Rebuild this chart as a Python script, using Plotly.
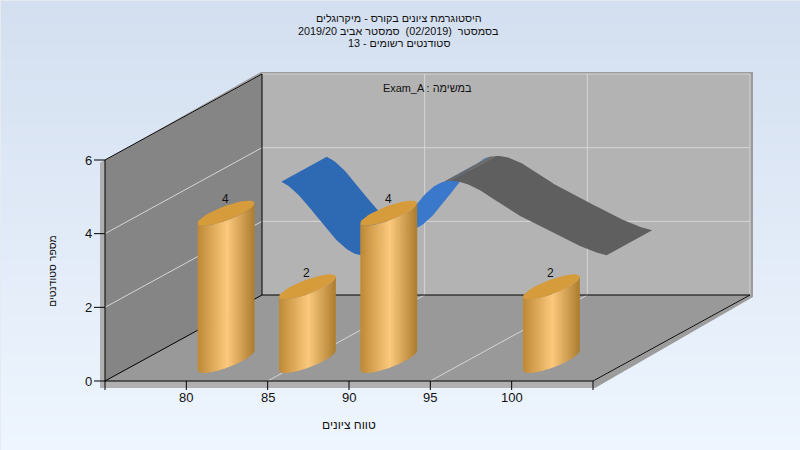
import math
import plotly.graph_objects as go

# ---- data ----
bar_grades = [80, 85, 90, 100]
bar_counts = [4, 2, 4, 2]
curve_grades = [80, 85, 90, 95, 100]
curve_counts = [4, 2, 4, 3, 2]
x_ticks = [80, 85, 90, 95, 100]
y_ticks = [0, 2, 4, 6]
title_lines = ["היסטוגרמת ציונים בקורס - מיקרוגלים",
               "בסמסטר  (02/2019)  סמסטר אביב 2019/20",
               "סטודנטים רשומים - 13"]
subtitle = "Exam_A : במשימה"
x_title = "טווח ציונים"
y_title = "מספר סטודנטים"

# ---- oblique projection of (grade, count, depth) to the page ----
XMIN, XMAX, YMAX = 75, 105, 6
OX, OY = 105, 381
PX_X, PX_Y = 488 / 30, 221 / 6
DX, DY = 157, 86
FONT = "Liberation Sans"


def P(g, v=0, d=0):
    return OX + (g - XMIN) * PX_X + d * DX, OY - v * PX_Y - d * DY


fig = go.Figure()


def poly(pts, color):
    fig.add_trace(go.Scatter(x=[p[0] for p in pts], y=[p[1] for p in pts], mode="lines",
                             fill="toself", fillcolor=color, line=dict(width=0),
                             hoverinfo="skip", showlegend=False))


def segs(pairs, color, width=1):
    xs, ys = [], []
    for a, b in pairs:
        xs += [a[0], b[0], None]
        ys += [a[1], b[1], None]
    fig.add_trace(go.Scatter(x=xs, y=ys, mode="lines", line=dict(color=color, width=width),
                             hoverinfo="skip", showlegend=False))


def off(p, dx, dy):
    return p[0] + dx, p[1] + dy


def lerp(c1, c2, u):
    return "rgb(%d,%d,%d)" % tuple(round(a + (b - a) * u) for a, b in zip(c1, c2))


# background gradient
rows = 90
fig.add_trace(go.Heatmap(x=[0, 800], y=[450 * i / rows for i in range(rows + 1)],
                         z=[[i] for i in range(rows)],
                         colorscale=[[0, "#D3DFF0"], [1, "#EEF5FE"]],
                         showscale=False, hoverinfo="skip"))
segs([((0.5, 0), (0.5, 450)), ((0, 0.5), (800, 0.5))], "#E6EBF2", 1)

# rims
poly([off(P(XMIN, YMAX), -5, 3), off(P(XMIN, YMAX, 1), -1, -2), off(P(XMAX, YMAX, 1), 3, -2),
      off(P(XMAX, 0, 1), 3, 2), off(P(XMAX), 2, 7), off(P(XMIN), -5, 7)], "#9C9C9C")
poly([off(P(XMIN, YMAX), -5, 3), P(XMIN, YMAX), P(XMIN), P(XMAX), off(P(XMAX), 2, 7), off(P(XMIN), -5, 7)], "#B0B0B0")

# walls and floor
poly([P(XMIN, 0, 1), P(XMAX, 0, 1), P(XMAX, YMAX, 1), P(XMIN, YMAX, 1)], "#B3B3B3")
poly([P(XMIN), P(XMIN, 0, 1), P(XMIN, YMAX, 1), P(XMIN, YMAX)], "#858585")
poly([P(XMIN), P(XMAX), P(XMAX, 0, 1), P(XMIN, 0, 1)], "#999999")

# grid
grid = []
for v in [2, 4, 6]:
    grid += [(P(XMIN, v), P(XMIN, v, 1)), (P(XMIN, v, 1), P(XMAX, v, 1))]
for g in [85, 95, 105]:
    grid += [(P(g), P(g, 0, 1)), (P(g, 0, 1), P(g, YMAX, 1))]
segs(grid, "#D6D6D6", 1)

# axes lines and ticks
axes = [(P(XMIN), P(XMIN, YMAX)), (P(XMIN, 0, 1), P(XMIN, YMAX, 1)), (P(XMIN, YMAX), P(XMIN, YMAX, 1)),
        (P(XMIN), P(XMIN, 0, 1)), (P(XMIN, 0, 1), P(XMAX, 0, 1)), (P(XMAX), P(XMAX, 0, 1)), (P(XMIN), P(XMAX))]
for v in y_ticks:
    axes.append((off(P(XMIN, v), -11, 0), P(XMIN, v)))
for g in [XMIN] + x_ticks + [XMAX]:
    axes.append((P(g), off(P(g), 0, 9)))
segs(axes, "#000000", 1)


# ribbon
def curve(t):
    i = min(int(t), len(curve_counts) - 2)
    s = t - i
    p0 = curve_counts[max(i - 1, 0)]
    p1, p2 = curve_counts[i], curve_counts[i + 1]
    p3 = curve_counts[min(i + 2, len(curve_counts) - 1)]
    m1, m2 = (p2 - p0) / 2, (p3 - p1) / 2
    return ((2 * s**3 - 3 * s**2 + 1) * p1 + (s**3 - 2 * s**2 + s) * m1
            + (-2 * s**3 + 3 * s**2) * p2 + (s**3 - s**2) * m2)


R_D, R_HW = 0.75, 0.145
grade_step = curve_grades[1] - curve_grades[0]
N = 48
piece_colors = [("#2E69B4", "#3A78CC"), ("#5F5F5F", "#6A6A6A")]
piece_spans = [(0, 2), (2, 4)]


def ribbon_piece(ts, color):
    gs = [(curve_grades[0] + t * grade_step, curve(t)) for t in ts]
    poly([P(g, v, R_D - R_HW) for g, v in gs] + [P(g, v, R_D + R_HW) for g, v in reversed(gs)], color)


for (first, last), (down, up) in zip(piece_spans, piece_colors):
    ts = [first + k / N for k in range((last - first) * N + 1)]
    group = [ts[0]]
    rising = curve(ts[1]) > curve(ts[0])
    for a, b in zip(ts, ts[1:]):
        now = curve(b) > curve(a)
        if now != rising:
            ribbon_piece(group, up if rising else down)
            group = [a]
            rising = now
        group.append(b)
    ribbon_piece(group, up if rising else down)

# cylinders
C_D, R_X, R_DEPTH = 0.25, 1.05, 0.145
A, B, C = R_X * PX_X, R_DEPTH * DX, R_DEPTH * DY
W = math.hypot(A, B)
t0 = math.atan2(B, A)
STRIPS = 30
dark_l, light, dark_r = (190, 137, 54), (252, 201, 124), (172, 124, 46)
for g, v in zip(bar_grades, bar_counts):
    cx, cy_bot = off(P(g, 0, C_D), 0.5, 1)
    _, cy_top = off(P(g, v, C_D), 0.5, 1)

    def edge(u, cy):
        phi = -math.acos(max(-1, min(1, 2 * u - 1)))
        return cx + W * (2 * u - 1), cy - C * math.sin(phi + t0)

    for s in range(STRIPS):
        u1, u2 = s / STRIPS, (s + 1) / STRIPS
        um = (u1 + u2) / 2
        col = lerp(dark_l, light, um / 0.52) if um < 0.52 else lerp(light, dark_r, (um - 0.52) / 0.48)
        u3 = min(1, u2 + 0.012)
        poly([edge(u1, cy_top), edge(u3, cy_top), edge(u3, cy_bot), edge(u1, cy_bot)], col)
    ell = [(cx + A * math.cos(j / 40 * 2 * math.pi) + B * math.sin(j / 40 * 2 * math.pi),
            cy_top - C * math.sin(j / 40 * 2 * math.pi)) for j in range(41)]
    poly(ell, "#D69B3A")


def label(x, y, text, size=12, rot=0):
    fig.add_annotation(x=x, y=y, text=text, showarrow=False, textangle=rot,
                       font=dict(family=FONT, size=size, color="#111111"), xanchor="center", yanchor="middle")


for g, v in zip(bar_grades, bar_counts):
    x, y = P(g, v, C_D)
    label(x, y - 13, str(v), 12)
for g in x_ticks:
    label(P(g)[0], 397, str(g), 13)
for v in y_ticks:
    label(88, P(XMIN, v)[1], str(v), 13)
for y, line in zip([18, 30.5, 43], title_lines):
    label(398.5, y, line, 10.8)
label(427, 88, subtitle, 10.9)
label(349, 425, x_title, 12)
label(52, 271, y_title, 10.5, -90)

fig.update_layout(width=800, height=450, margin=dict(l=0, r=0, t=0, b=0), showlegend=False,
                  paper_bgcolor="#E0EAF8", plot_bgcolor="#E0EAF8",
                  xaxis=dict(range=[0, 800], visible=False, fixedrange=True),
                  yaxis=dict(range=[450, 0], visible=False, fixedrange=True))
fig.write_html("out.html", config={"displayModeBar": False},
               post_script="document.body.style.margin='0';document.body.style.overflow='hidden';")
